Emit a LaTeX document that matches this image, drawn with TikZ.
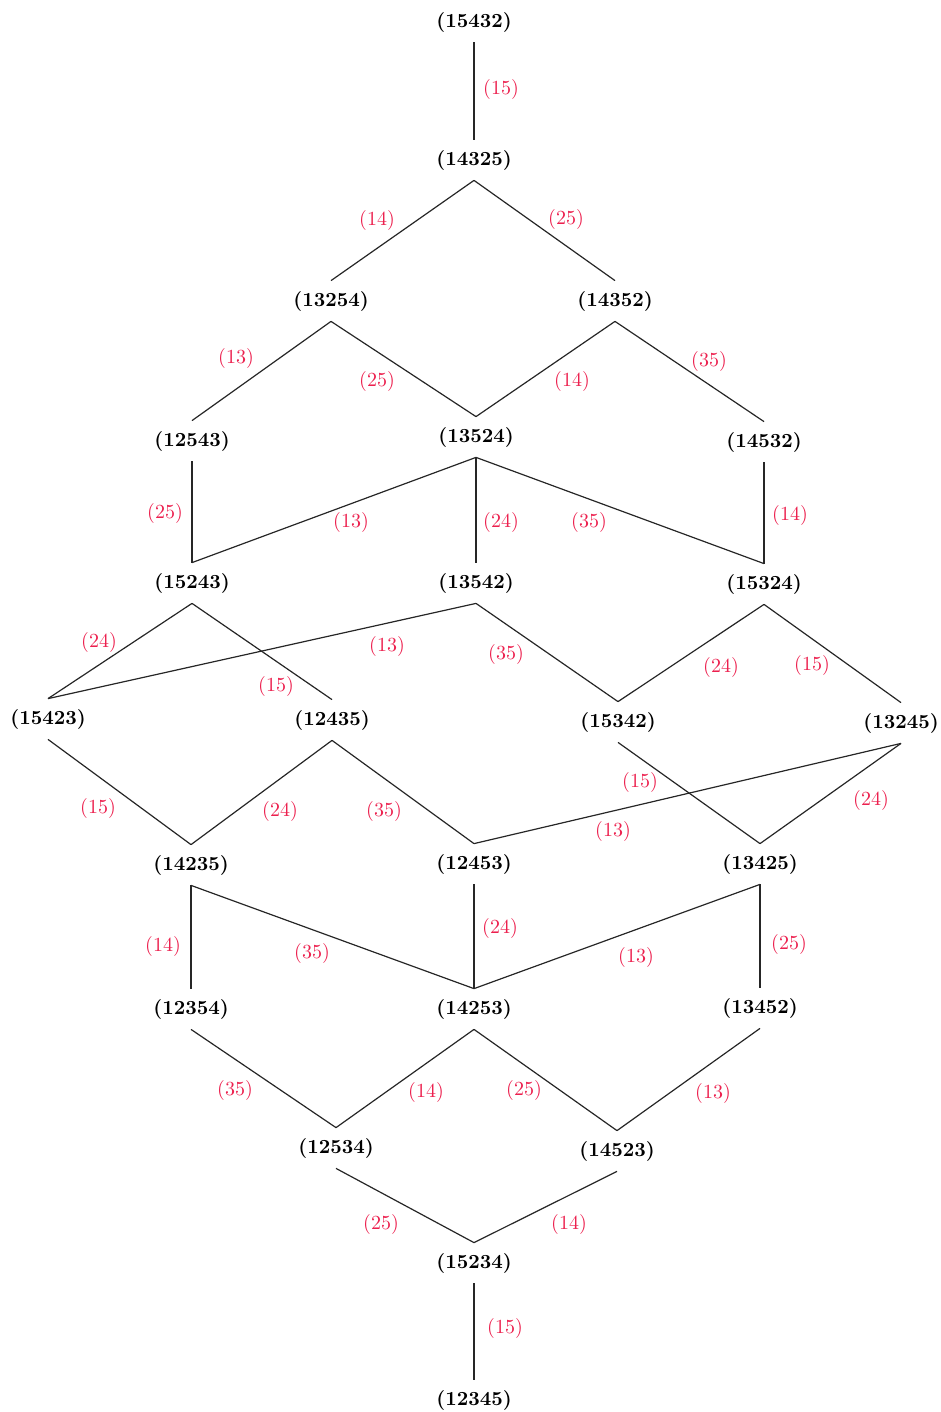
\documentclass[tikz,border=0pt]{standalone}
\usepackage{amsmath}
\usepackage[svgnames, dvipsnames]{xcolor}
\definecolor{labred}{RGB}{236,32,78}
\tikzset{
  perm/.style={font=\bfseries, inner sep=5pt},
  swap/.style={text=labred, inner sep=1pt},
  link/.style={draw=black!85, line width=0.6pt}
}
\begin{document}
\begin{tikzpicture}[x=0.5pt, y=-0.5pt]
            \useasboundingbox (0,0) rectangle (941,1412);
            % permutations, row by row
            \node[perm] (p15432) at (474,22) {(15432)};
            \node[perm] (p14325) at (474,160) {(14325)};
            \node[perm] (p13254) at (331,301) {(13254)};
            \node[perm] (p14352) at (615,301) {(14352)};
            \node[perm] (p12543) at (192,441) {(12543)};
            \node[perm] (p13524) at (476,437) {(13524)};
            \node[perm] (p14532) at (764,442) {(14532)};
            \node[perm] (p15243) at (192,583) {(15243)};
            \node[perm] (p13542) at (476,583) {(13542)};
            \node[perm] (p15324) at (764,584) {(15324)};
            \node[perm] (p15423) at (48,719) {(15423)};
            \node[perm] (p12435) at (332,720) {(12435)};
            \node[perm] (p15342) at (618,722) {(15342)};
            \node[perm] (p13245) at (901,723) {(13245)};
            \node[perm] (p14235) at (191,865) {(14235)};
            \node[perm] (p12453) at (474,864) {(12453)};
            \node[perm] (p13425) at (760,864) {(13425)};
            \node[perm] (p12354) at (191,1009) {(12354)};
            \node[perm] (p14253) at (474,1009) {(14253)};
            \node[perm] (p13452) at (760,1008) {(13452)};
            \node[perm] (p12534) at (336,1148) {(12534)};
            \node[perm] (p14523) at (617,1151) {(14523)};
            \node[perm] (p15234) at (474,1263) {(15234)};
            \node[perm] (p12345) at (474,1400) {(12345)};

            % transpositions
            \node[swap] (s01) at (501,90) {(15)};
            \node[swap] (s02) at (377,221) {(14)};
            \node[swap] (s03) at (566,220) {(25)};
            \node[swap] (s04) at (236,358) {(13)};
            \node[swap] (s05) at (377,381) {(25)};
            \node[swap] (s06) at (572,381) {(14)};
            \node[swap] (s07) at (709,361) {(35)};
            \node[swap] (s08) at (165,513) {(25)};
            \node[swap] (s09) at (351,522) {(13)};
            \node[swap] (s10) at (501,522) {(24)};
            \node[swap] (s11) at (589,522) {(35)};
            \node[swap] (s12) at (790,515) {(14)};
            \node[swap] (s13) at (99,642) {(24)};
            \node[swap] (s14) at (276,686) {(15)};
            \node[swap] (s15) at (387,646) {(13)};
            \node[swap] (s16) at (506,654) {(35)};
            \node[swap] (s17) at (721,667) {(24)};
            \node[swap] (s18) at (812,665) {(15)};
            \node[swap] (s19) at (98,808) {(15)};
            \node[swap] (s20) at (280,811) {(24)};
            \node[swap] (s21) at (384,811) {(35)};
            \node[swap] (s22) at (640,782) {(15)};
            \node[swap] (s23) at (613,831) {(13)};
            \node[swap] (s24) at (871,800) {(24)};
            \node[swap] (s25) at (163,946) {(14)};
            \node[swap] (s26) at (312,953) {(35)};
            \node[swap] (s27) at (500,928) {(24)};
            \node[swap] (s28) at (636,957) {(13)};
            \node[swap] (s29) at (789,944) {(25)};
            \node[swap] (s30) at (235,1090) {(35)};
            \node[swap] (s31) at (426,1092) {(14)};
            \node[swap] (s32) at (524,1090) {(25)};
            \node[swap] (s33) at (713,1093) {(13)};
            \node[swap] (s34) at (381,1224) {(25)};
            \node[swap] (s35) at (569,1224) {(14)};
            \node[swap] (s36) at (505,1328) {(15)};

            \draw[link] (p15432.south) -- (p14325.north);
            \draw[link] (p14325.south) -- (p13254.north);
            \draw[link] (p14325.south) -- (p14352.north);
            \draw[link] (p13254.south) -- (p12543.north);
            \draw[link] (p13254.south) -- (p13524.north);
            \draw[link] (p14352.south) -- (p13524.north);
            \draw[link] (p14352.south) -- (p14532.north);
            \draw[link] (p12543.south) -- (p15243.north);
            \draw[link] (p13524.south) -- (p15243.north);
            \draw[link] (p13524.south) -- (p13542.north);
            \draw[link] (p13524.south) -- (p15324.north);
            \draw[link] (p14532.south) -- (p15324.north);
            \draw[link] (p15243.south) -- (p15423.north);
            \draw[link] (p15243.south) -- (p12435.north);
            \draw[link] (p13542.south) -- (p15423.north);
            \draw[link] (p13542.south) -- (p15342.north);
            \draw[link] (p15324.south) -- (p15342.north);
            \draw[link] (p15324.south) -- (p13245.north);
            \draw[link] (p15423.south) -- (p14235.north);
            \draw[link] (p12435.south) -- (p14235.north);
            \draw[link] (p12435.south) -- (p12453.north);
            \draw[link] (p15342.south) -- (p13425.north);
            \draw[link] (p13245.south) -- (p12453.north);
            \draw[link] (p13245.south) -- (p13425.north);
            \draw[link] (p14235.south) -- (p12354.north);
            \draw[link] (p14235.south) -- (p14253.north);
            \draw[link] (p12453.south) -- (p14253.north);
            \draw[link] (p13425.south) -- (p14253.north);
            \draw[link] (p13425.south) -- (p13452.north);
            \draw[link] (p12354.south) -- (p12534.north);
            \draw[link] (p14253.south) -- (p12534.north);
            \draw[link] (p14253.south) -- (p14523.north);
            \draw[link] (p13452.south) -- (p14523.north);
            \draw[link] (p12534.south) -- (p15234.north);
            \draw[link] (p14523.south) -- (p15234.north);
            \draw[link] (p15234.south) -- (p12345.north);
        \end{tikzpicture}
\end{document}
